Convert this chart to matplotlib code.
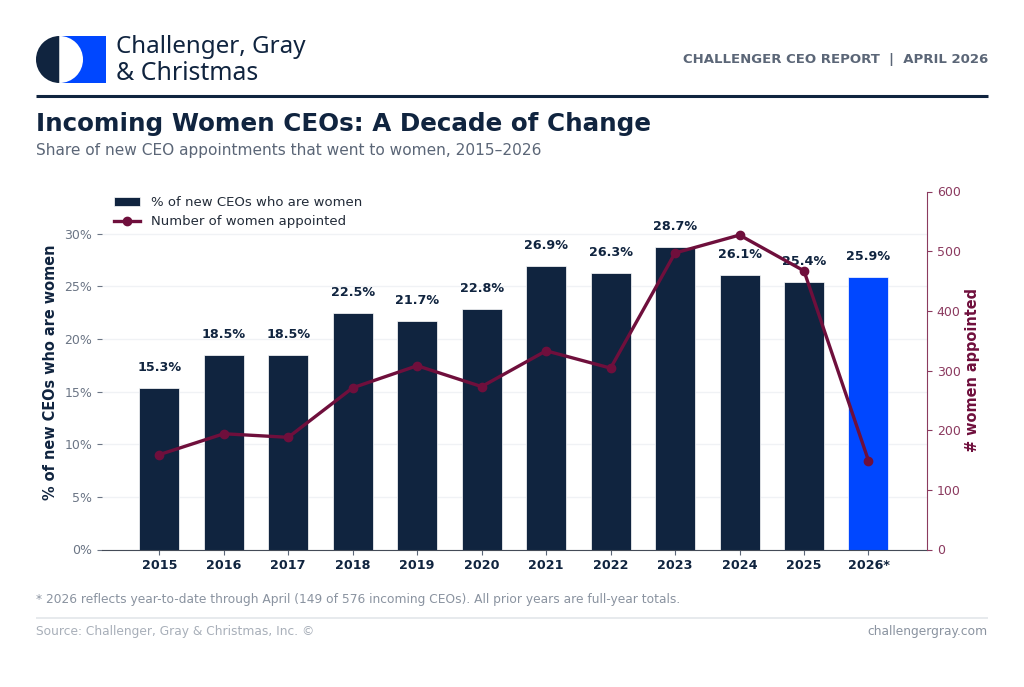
import matplotlib
matplotlib.use("Agg")
import matplotlib.pyplot as plt
from matplotlib.patches import Rectangle, Wedge

years = ["2015", "2016", "2017", "2018", "2019", "2020", "2021", "2022", "2023", "2024", "2025", "2026*"]
pct_women = [15.3, 18.5, 18.5, 22.5, 21.7, 22.8, 26.9, 26.3, 28.7, 26.1, 25.4, 25.9]
num_women = [159, 194, 188, 271, 308, 273, 333, 304, 497, 527, 467, 149]
pct_ticks = [0, 5, 10, 15, 20, 25, 30]
num_ticks = [0, 100, 200, 300, 400, 500, 600]

NAVY = "#10243f"
BLUE = "#0047ff"
WINE = "#6f0f3c"
WINE_SOFT = "#8b3a5f"
SLATE = "#5b6677"
TICK_GREY = "#6b7585"

W, H = 1024, 687
fig = plt.figure(figsize=(W / 100, H / 100), dpi=100, facecolor="white")

# page furniture is laid out in pixels on a full-figure axes
page = fig.add_axes([0, 0, 1, 1], zorder=0)
page.set_xlim(0, W)
page.set_ylim(H, 0)
page.axis("off")

# logo mark
page.add_patch(Rectangle((59.5, 36), 46.5, 47, color=BLUE, lw=0))
page.add_patch(Wedge((59.5, 59.5), 23.5, 90, 270, color=NAVY, lw=0))
page.add_patch(Wedge((59.5, 59.5), 23.5, -90, 90, color="white", lw=0))
page.text(116, 47, "Challenger, Gray", family="Noto Sans", fontsize=17.4, color=NAVY, va="center", ha="left")
page.text(116, 74, "& Christmas", family="Noto Sans", fontsize=17.9, color=NAVY, va="center", ha="left")

page.text(988, 59.5, "CHALLENGER CEO REPORT  |  APRIL 2026", fontsize=9.55, fontweight="bold",
          color=SLATE, ha="right", va="center")
page.plot([36, 988], [95.5, 95.5], color=NAVY, lw=2.2, solid_capstyle="butt")
page.text(36, 124, "Incoming Women CEOs: A Decade of Change", fontsize=17.7, fontweight="bold",
          color=NAVY, ha="left", va="center")
page.text(36, 150, "Share of new CEO appointments that went to women, 2015\u20132026", fontsize=11.05,
          color=SLATE, ha="left", va="center")

page.text(36, 599, "* 2026 reflects year-to-date through April (149 of 576 incoming CEOs). All prior years are full-year totals.",
          fontsize=8.84, color="#8a93a0", ha="left", va="center")
page.plot([36, 988], [618, 618], color="#e3e6ea", lw=1.2, solid_capstyle="butt")
page.text(36, 632, "Source: Challenger, Gray & Christmas, Inc. \u00a9", fontsize=8.84, color="#a8afb9", ha="left", va="center")
page.text(988, 632, "challengergray.com", fontsize=8.84, color="#8a93a0", ha="right", va="center")

# main chart
left, right, top, bottom = 102, 927, 191.5, 549.5
ax = fig.add_axes([left / W, 1 - bottom / H, (right - left) / W, (bottom - top) / H], zorder=1)
ax.patch.set_alpha(0)
x = list(range(len(years)))
colors = [NAVY] * (len(years) - 1) + [BLUE]
bars = ax.bar(x, pct_women, width=0.62, color=colors, edgecolor="white", linewidth=0.5, zorder=2,
              label="% of new CEOs who are women")
for xi, v in zip(x, pct_women):
    ax.annotate(f"{v:.1f}%", (xi, v), xytext=(0, 20.5), textcoords="offset pixels", ha="center", va="center",
                fontsize=9.2, fontweight="bold", color=NAVY, zorder=3)

ax.set_xlim(-0.889, 11.908)
ax.set_ylim(0, 34)
ax.set_xticks(x, years, fontsize=9.2, fontweight="bold", color=NAVY)
ax.set_yticks(pct_ticks, [f"{t}%" for t in pct_ticks], fontsize=9, color=TICK_GREY)
ax.tick_params(axis="y", length=3.5, color=TICK_GREY, width=0.8, pad=3.5)
ax.tick_params(axis="x", length=3.5, color=SLATE, width=0.8, pad=3.2)
ax.grid(axis="y", color="#f0f2f5", lw=1, zorder=0)
ax.set_axisbelow(True)
ax.set_ylabel("% of new CEOs who are women", fontsize=10.45, fontweight="bold", color=NAVY)
ax.yaxis.set_label_coords(-0.0533, 0.495)
for side in ["top", "right", "left"]:
    ax.spines[side].set_visible(False)
ax.spines["bottom"].set_color("#444b57")

# count of appointments on its own scale
ax2 = ax.twinx()
line, = ax2.plot(x, num_women, color=WINE, lw=2.4, marker="o", markersize=6, zorder=4,
                 label="Number of women appointed")
ax2.set_ylim(0, 600)
ax2.set_yticks(num_ticks)
ax2.tick_params(axis="y", colors=WINE_SOFT, labelsize=9, length=3.5, width=0.8, pad=3.5)
ax2.set_ylabel("# women appointed", fontsize=10.45, fontweight="bold", color=WINE)
ax2.yaxis.set_label_coords(1.0466, 0.5)
for side in ["top", "left", "bottom"]:
    ax2.spines[side].set_visible(False)
ax2.spines["right"].set_color(WINE_SOFT)

legend_handles = [bars, line]
ax2.legend(legend_handles, [h.get_label() for h in legend_handles], loc="upper left",
           bbox_to_anchor=(0.0, 1.02), frameon=False, fontsize=9.55, labelspacing=0.46,
           labelcolor="#222b38")

fig.savefig("out.png", dpi=100)
